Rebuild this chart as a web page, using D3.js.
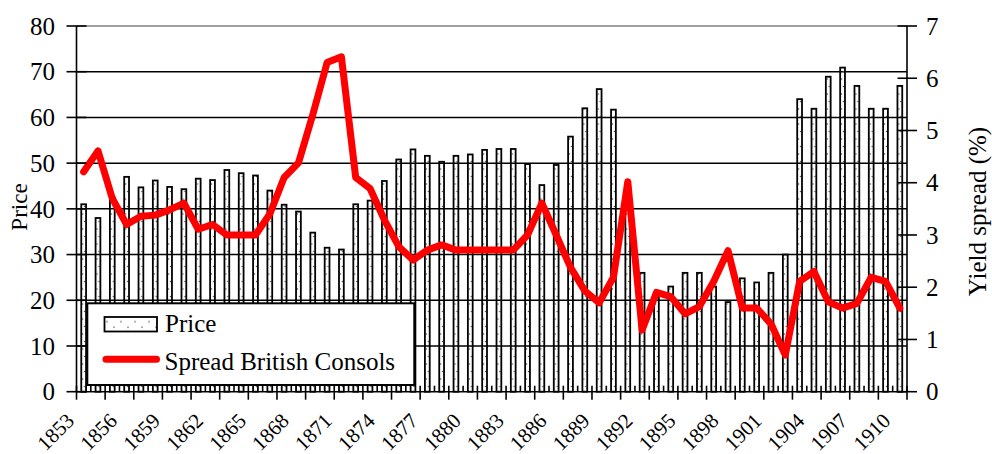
<!DOCTYPE html>
<html><head><meta charset="utf-8">
<script src="https://cdn.jsdelivr.net/npm/d3@7"></script>
<style>html,body{margin:0;padding:0;background:#fff;} svg{display:block;font-family:"Liberation Serif","Times New Roman",serif;}</style>
</head><body><svg id="c" width="992" height="454"></svg>
<script>
const years = [1853,1854,1855,1856,1857,1858,1859,1860,1861,1862,1863,1864,1865,1866,1867,1868,1869,1870,1871,1872,1873,1874,1875,1876,1877,1878,1879,1880,1881,1882,1883,1884,1885,1886,1887,1888,1889,1890,1891,1892,1893,1894,1895,1896,1897,1898,1899,1900,1901,1902,1903,1904,1905,1906,1907,1908,1909,1910];
const price = [41,38,42.5,47,44.7,46.2,44.8,44.3,46.6,46.3,48.5,47.8,47.3,44,40.9,39.4,34.8,31.5,31.1,41,41.8,46.1,50.8,53,51.6,50.3,51.6,51.9,52.9,53.1,53.1,49.8,45.2,49.6,55.8,62,66.2,61.7,43,26,21.5,23,26,26,23,19.6,24.8,23.9,26,30,64,61.9,68.9,70.9,66.9,61.9,61.9,66.9];
const spread = [4.21,4.61,3.70,3.20,3.36,3.38,3.48,3.61,3.11,3.20,3.00,3.00,3.00,3.40,4.10,4.38,5.30,6.30,6.41,4.10,3.89,3.29,2.78,2.52,2.71,2.81,2.71,2.71,2.71,2.71,2.71,3.00,3.61,3.00,2.38,1.93,1.70,2.19,4.02,1.18,1.90,1.82,1.49,1.63,2.11,2.70,1.60,1.60,1.30,0.70,2.11,2.30,1.72,1.60,1.69,2.19,2.11,1.60];
const xTickLabels = ["1853","1856","1859","1862","1865","1868","1871","1874","1877","1880","1883","1886","1889","1892","1895","1898","1901","1904","1907","1910"];
const leftTicks = [0,10,20,30,40,50,60,70,80];
const rightTicks = [0,1,2,3,4,5,6,7];
const seriesNames = ["Price","Spread British Consols"];
const axisTitles = ["Price","Yield spread (%)"];

const svg = d3.select("#c");
const X0 = 76.5, X1 = 907, Y0 = 391.7, Y1 = 26;
const x = d3.scaleBand().domain(years).range([X0, X1]).padding(0);
const yL = d3.scaleLinear().domain([0, 80]).range([Y0, Y1]);
const yR = d3.scaleLinear().domain([0, 7]).range([Y0, Y1]);
const bw = x.bandwidth();
const cx = d => x(d) + bw / 2;

// dotted pattern
const defs = svg.append("defs");
const pat = defs.append("pattern").attr("id", "dots").attr("patternUnits", "userSpaceOnUse")
  .attr("x", X0).attr("y", 0).attr("width", bw).attr("height", 15);
pat.append("circle").attr("cx", bw / 2 - 1).attr("cy", 4).attr("r", 0.8).attr("fill", "#555");
pat.append("circle").attr("cx", bw / 2 + 1).attr("cy", 11.5).attr("r", 0.8).attr("fill", "#555");
const pat2 = defs.append("pattern").attr("id", "dots2").attr("patternUnits", "userSpaceOnUse")
  .attr("x", 104).attr("y", 316.7).attr("width", 14).attr("height", 15);
pat2.append("circle").attr("cx", 3).attr("cy", 5).attr("r", 0.8).attr("fill", "#555");
pat2.append("circle").attr("cx", 10).attr("cy", 10.5).attr("r", 0.8).attr("fill", "#555");

// gridlines
svg.append("g").selectAll("line").data(leftTicks.filter(t => t > 0)).join("line")
  .attr("x1", X0).attr("x2", X1).attr("y1", d => yL(d)).attr("y2", d => yL(d))
  .attr("stroke", d => d === 80 ? "#808080" : "#000").attr("stroke-width", 1.5);

// bars
svg.append("g").selectAll("rect").data(years).join("rect")
  .attr("x", (d) => cx(d) - 2.4).attr("width", 4.8)
  .attr("y", (d, i) => yL(price[i])).attr("height", (d, i) => Y0 - yL(price[i]))
  .attr("fill", "url(#dots)").attr("stroke", "#000").attr("stroke-width", 1.8);

// line
const line = d3.line().x((d, i) => cx(years[i])).y(d => yR(d));
svg.append("path").datum(spread).attr("d", line).attr("fill", "none")
  .attr("stroke", "#ff0000").attr("stroke-width", 7).attr("stroke-linejoin", "round").attr("stroke-linecap", "round");

// legend
const lg = svg.append("g");
lg.append("rect").attr("x", 87.3).attr("y", 303.3).attr("width", 327).attr("height", 81.7)
  .attr("fill", "#fff").attr("stroke", "#000").attr("stroke-width", 2);
lg.append("rect").attr("x", 104.5).attr("y", 317).attr("width", 52.5).attr("height", 14.5)
  .attr("fill", "url(#dots2)").attr("stroke", "#000").attr("stroke-width", 1.8);
lg.append("text").attr("x", 165).attr("y", 332).attr("font-size", 25).text(seriesNames[0]);
lg.append("line").attr("x1", 106).attr("x2", 156.5).attr("y1", 359.3).attr("y2", 359.3)
  .attr("stroke", "#ff0000").attr("stroke-width", 7).attr("stroke-linecap", "round");
lg.append("text").attr("x", 164.5).attr("y", 370).attr("font-size", 25).text(seriesNames[1]);

// axes
const ax = svg.append("g").attr("stroke", "#000").attr("stroke-width", 1.6);
ax.append("line").attr("x1", X0).attr("x2", X0).attr("y1", Y1).attr("y2", Y0);
ax.append("line").attr("x1", X1).attr("x2", X1).attr("y1", Y1).attr("y2", Y0);
ax.append("line").attr("x1", X0).attr("x2", X1).attr("y1", Y0).attr("y2", Y0);
ax.selectAll(".lt").data(leftTicks).join("line").attr("class", "lt")
  .attr("x1", X0 - 10).attr("x2", X0 + 10).attr("y1", d => yL(d)).attr("y2", d => yL(d));
ax.selectAll(".rt").data(rightTicks).join("line").attr("class", "rt")
  .attr("x1", X1 - 9.5).attr("x2", X1 + 10).attr("y1", d => yR(d)).attr("y2", d => yR(d));
const bounds = years.map(d => x(d)).concat([X1]);
ax.selectAll(".bt").data(bounds).join("line").attr("class", "bt")
  .attr("x1", d => d).attr("x2", d => d).attr("y1", Y0 - 6).attr("y2", (d, i) => i % 2 === 0 ? Y0 + 8 : Y0);

svg.append("g").selectAll("text").data(leftTicks).join("text")
  .attr("x", 55).attr("y", d => yL(d)).attr("dy", "0.35em").attr("text-anchor", "end")
  .attr("font-size", 25).text(d => d);
svg.append("g").selectAll("text").data(rightTicks).join("text")
  .attr("x", 926).attr("y", d => yR(d)).attr("dy", "0.35em").attr("text-anchor", "start")
  .attr("font-size", 25).text(d => d);
svg.append("g").selectAll("text").data(xTickLabels).join("text")
  .attr("text-anchor", "end").attr("font-size", 21)
  .attr("transform", d => `translate(${x(+d) - 1},${422}) rotate(-45)`).text(d => d);

svg.append("text").attr("transform", "translate(19.5,207) rotate(-90)")
  .attr("text-anchor", "middle").attr("dominant-baseline", "central").attr("font-size", 23).text(axisTitles[0]);
svg.append("text").attr("transform", "translate(977,211.5) rotate(-90)")
  .attr("text-anchor", "middle").attr("dominant-baseline", "central").attr("font-size", 25).text(axisTitles[1]);
</script></body></html>
